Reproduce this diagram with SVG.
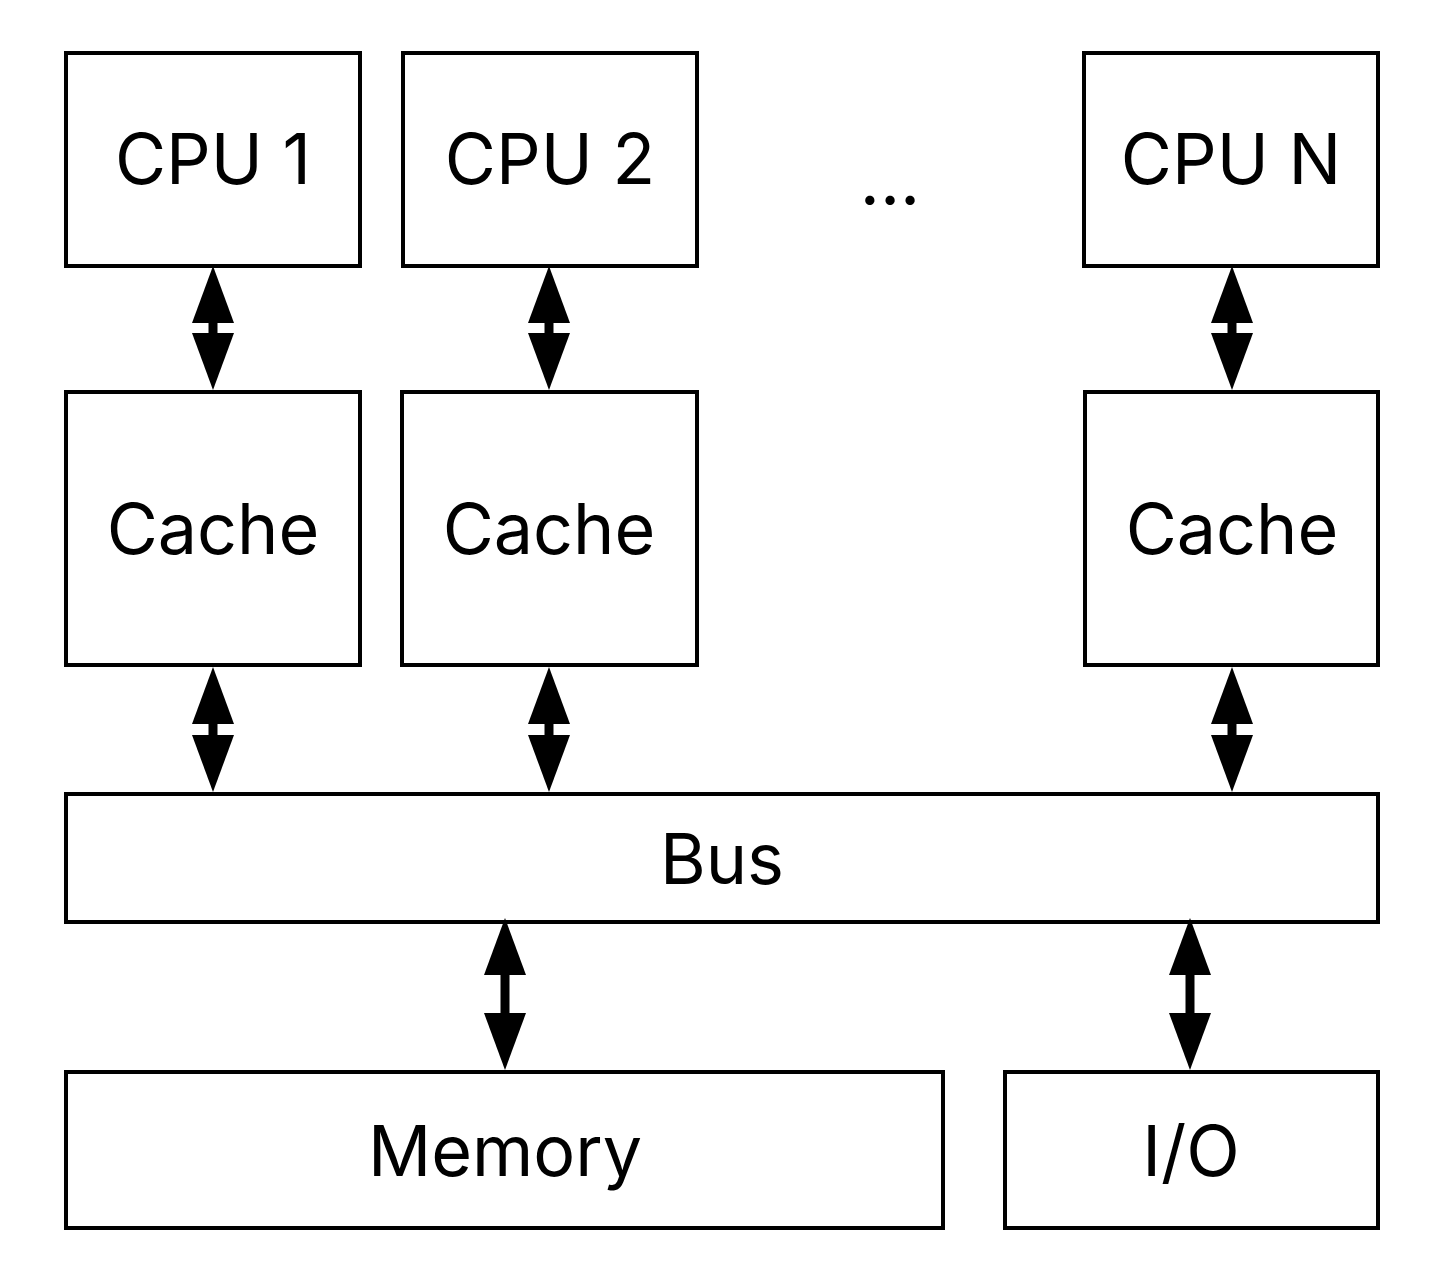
<svg xmlns="http://www.w3.org/2000/svg" width="1431" height="1283" viewBox="0 0 1431 1283">
<style>
rect{fill:#fff;stroke:#000;stroke-width:4}
text{font-family:Inter,"Liberation Sans",sans-serif;font-size:70px;text-anchor:middle;fill:#000}
.c line{stroke:#000;stroke-width:9}
.c polygon{fill:#000}
</style>
<rect width="1431" height="1283" style="stroke:none"/>
<g id="cpu1"><rect x="66" y="53" width="294" height="213"/><text x="213" y="184">CPU 1</text></g>
<g id="cpu2"><rect x="403" y="53" width="294" height="213"/><text x="550" y="184">CPU 2</text></g>
<g id="dots"><text x="890" y="205">...</text></g>
<g id="cpun"><rect x="1084" y="53" width="294" height="213"/><text x="1231" y="184">CPU N</text></g>
<g id="cache1"><rect x="66" y="392" width="294" height="273"/><text x="213" y="554">Cache</text></g>
<g id="cache2"><rect x="402" y="392" width="295" height="273"/><text x="549" y="554">Cache</text></g>
<g id="cachen"><rect x="1085" y="392" width="293" height="273"/><text x="1232" y="554">Cache</text></g>
<g id="bus"><rect x="66" y="794" width="1312" height="128"/><text x="722" y="884">Bus</text></g>
<g id="memory"><rect x="66" y="1072" width="877" height="156"/><text x="505" y="1176">Memory</text></g>
<g id="io"><rect x="1005" y="1072" width="373" height="156"/><text x="1191" y="1176">I/O</text></g>
<g class="c" id="connectors">
<g transform="translate(213,266)"><line x1="0" y1="50" x2="0" y2="76"/><polygon points="0,0 21,57 -21,57"/><polygon points="0,124 21,67 -21,67"/></g>
<g transform="translate(549,266)"><line x1="0" y1="50" x2="0" y2="76"/><polygon points="0,0 21,57 -21,57"/><polygon points="0,124 21,67 -21,67"/></g>
<g transform="translate(1232,266)"><line x1="0" y1="50" x2="0" y2="76"/><polygon points="0,0 21,57 -21,57"/><polygon points="0,124 21,67 -21,67"/></g>
<g transform="translate(213,667)"><line x1="0" y1="50" x2="0" y2="76"/><polygon points="0,0 21,57 -21,57"/><polygon points="0,125 21,68 -21,68"/></g>
<g transform="translate(549,667)"><line x1="0" y1="50" x2="0" y2="76"/><polygon points="0,0 21,57 -21,57"/><polygon points="0,125 21,68 -21,68"/></g>
<g transform="translate(1232,667)"><line x1="0" y1="50" x2="0" y2="76"/><polygon points="0,0 21,57 -21,57"/><polygon points="0,125 21,68 -21,68"/></g>
<g transform="translate(505,918)"><line x1="0" y1="50" x2="0" y2="104"/><polygon points="0,0 21,57 -21,57"/><polygon points="0,152 21,95 -21,95"/></g>
<g transform="translate(1190,918)"><line x1="0" y1="50" x2="0" y2="104"/><polygon points="0,0 21,57 -21,57"/><polygon points="0,152 21,95 -21,95"/></g>
</g>
</svg>
